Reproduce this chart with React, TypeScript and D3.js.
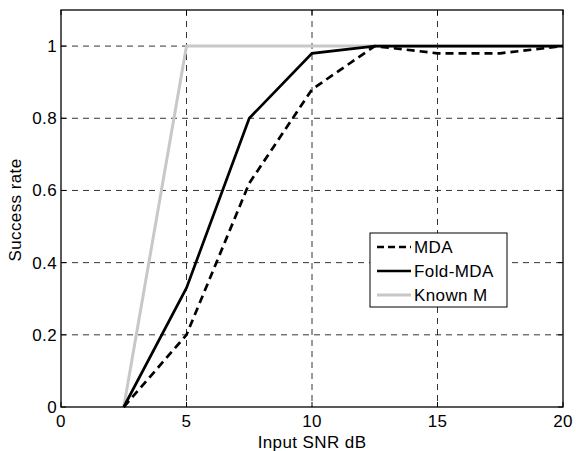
import React, { useEffect, useRef } from "react";
import * as d3 from "d3";

const snr = [2.5, 5, 7.5, 10, 12.5, 15, 17.5, 20];
const mda = [0, 0.2, 0.62, 0.88, 1.0, 0.98, 0.98, 1.0];
const foldMda = [0, 0.33, 0.8, 0.98, 1.0, 1.0, 1.0, 1.0];
const knownM = [0, 1, 1, 1, 1, 1, 1, 1];
const xTicks = [0, 5, 10, 15, 20];
const yTicks = [0, 0.2, 0.4, 0.6, 0.8, 1];
const seriesNames = ["MDA", "Fold-MDA", "Known M"];

export default function App() {
  const ref = useRef<SVGSVGElement>(null);
  useEffect(() => {
    const svg = d3.select(ref.current);
    svg.selectAll("*").remove();
    const L = 61, R = 563, T = 10, B = 407;
    const x = d3.scaleLinear().domain([0, 20]).range([L, R]);
    const y = d3.scaleLinear().domain([0, 1.1]).range([B, T]);
    const font = "Liberation Sans, Arial, sans-serif";
    const fs = 17;
    const ls = 0.4;

    svg.append("rect").attr("x", L).attr("y", T).attr("width", R - L).attr("height", B - T).attr("fill", "#fff");

    // grid
    const g = svg.append("g");
    xTicks.slice(1, -1).forEach((t) => {
      g.append("line").attr("x1", x(t)).attr("x2", x(t)).attr("y1", T).attr("y2", B)
        .attr("stroke", "#000").attr("stroke-width", 0.8).attr("stroke-dasharray", "6,5");
    });
    yTicks.slice(1).forEach((t) => {
      g.append("line").attr("x1", L).attr("x2", R).attr("y1", y(t)).attr("y2", y(t))
        .attr("stroke", "#000").attr("stroke-width", 0.8).attr("stroke-dasharray", "6,5");
    });

    const line = d3.line<number>().x((_, i) => x(snr[i])).y((d) => y(d));
    const styles = [
      { data: mda, color: "#000", w: 2.7, dash: "8,5" },
      { data: foldMda, color: "#000", w: 2.7, dash: null },
      { data: knownM, color: "#c8c8c8", w: 3, dash: null },
    ];
    [styles[2], styles[1], styles[0]].forEach((s) => {
      const p = svg.append("path").attr("d", line(s.data)).attr("fill", "none")
        .attr("stroke", s.color).attr("stroke-width", s.w).attr("stroke-linejoin", "miter");
      if (s.dash) p.attr("stroke-dasharray", s.dash);
    });

    // frame
    svg.append("rect").attr("x", L).attr("y", T).attr("width", R - L).attr("height", B - T)
      .attr("fill", "none").attr("stroke", "#000").attr("stroke-width", 1.3);

    const txt = (sel: any) => sel.attr("font-family", font).attr("font-size", fs).attr("letter-spacing", ls).attr("fill", "#000");

    // ticks
    xTicks.forEach((t) => {
      svg.append("line").attr("x1", x(t)).attr("x2", x(t)).attr("y1", B).attr("y2", B - 5).attr("stroke", "#000");
      svg.append("line").attr("x1", x(t)).attr("x2", x(t)).attr("y1", T).attr("y2", T + 5).attr("stroke", "#000");
      txt(svg.append("text").attr("x", x(t)).attr("y", B + 20).attr("text-anchor", "middle")).text(String(t));
    });
    yTicks.forEach((t) => {
      svg.append("line").attr("x1", L).attr("x2", L + 5).attr("y1", y(t)).attr("y2", y(t)).attr("stroke", "#000");
      svg.append("line").attr("x1", R).attr("x2", R - 5).attr("y1", y(t)).attr("y2", y(t)).attr("stroke", "#000");
      txt(svg.append("text").attr("x", L - 4).attr("y", y(t) + 6).attr("text-anchor", "end")).text(String(t));
    });

    txt(svg.append("text").attr("x", 312).attr("y", 448).attr("text-anchor", "middle")).text("Input SNR dB");
    txt(svg.append("text").attr("transform", `translate(21,210) rotate(-90)`).attr("text-anchor", "middle")).text("Success rate");

    // legend
    const lg = svg.append("g");
    lg.append("rect").attr("x", 370).attr("y", 233).attr("width", 137).attr("height", 74)
      .attr("fill", "#fff").attr("stroke", "#000").attr("stroke-width", 1);
    styles.forEach((s, i) => {
      const yy = 247 + i * 24;
      const l = lg.append("line").attr("x1", 377).attr("x2", 411).attr("y1", yy).attr("y2", yy)
        .attr("stroke", s.color).attr("stroke-width", s.w);
      if (s.dash) l.attr("stroke-dasharray", "7,4");
      txt(lg.append("text").attr("x", 414).attr("y", yy + 6)).text(seriesNames[i]);
    });
  }, []);
  return <svg ref={ref} width={576} height={451} style={{ position: "absolute", left: 0, top: 0, background: "#fff" }} />;
}
